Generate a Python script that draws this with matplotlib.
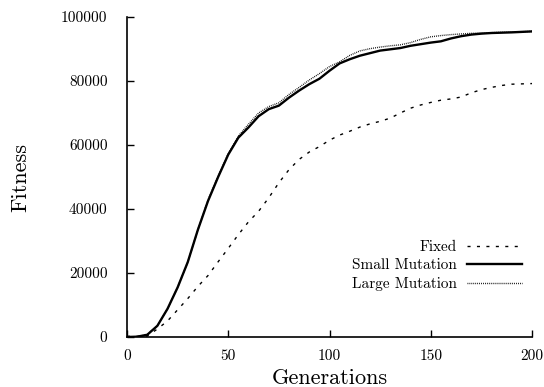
import numpy as np
import matplotlib
matplotlib.use('Agg')
import matplotlib.pyplot as plt

# Данные
generations = np.arange(0, 201, 5)
fixed = [200, 200, 300, 2500, 5000, 8500, 12000, 15800, 19200, 23500,
         27700, 32000, 36000, 39300, 43500, 48200, 52300, 55500, 57800, 59500,
         61500, 63100, 64300, 65600, 66600, 67400, 68400, 70000, 71500, 72500,
         73300, 74000, 74400, 75000, 76300, 77300, 78000, 78600, 79000, 79100,
         79200]
small_mutation = [0, 100, 700, 3500, 8800, 15500, 23400, 33500, 42500, 50000,
                  57000, 62300, 65500, 69000, 71200, 72300, 74800, 77000, 79000, 80700,
                  83200, 85500, 86800, 87900, 88700, 89500, 89900, 90300, 91000, 91500,
                  92000, 92400, 93300, 94000, 94500, 94800, 95000, 95100, 95200, 95350,
                  95500]
large_mutation = [0, 100, 700, 3500, 8800, 15500, 23400, 33500, 42800, 50300,
                  57300, 62800, 66500, 70000, 72000, 73200, 75800, 78000, 80300, 82300,
                  84500, 86000, 88000, 89400, 90100, 90600, 91000, 91300, 92000, 93000,
                  93800, 94200, 94500, 94700, 94900, 95000, 95100, 95200, 95300, 95400,
                  95500]

x_ticks = [0, 50, 100, 150, 200]
y_ticks = [0, 20000, 40000, 60000, 80000, 100000]

plt.rcParams['font.family'] = ['cmr10', 'DejaVu Serif']
plt.rcParams['axes.formatter.use_mathtext'] = True

fig = plt.figure(figsize=(5.44, 3.87), dpi=100)
ax = fig.add_axes([127 / 544, 50 / 387, 405 / 544, 320 / 387])

ax.plot(generations, fixed, color='black', lw=1.0, ls=(0, (2.2, 4.6)), label='Fixed')
ax.plot(generations, small_mutation, color='black', lw=1.7, label='Small Mutation')
ax.plot(generations, large_mutation, color='black', lw=1.0, ls=(0, (0.6, 0.8)),
        label='Large Mutation')

ax.set_xlim(0, 200)
ax.set_ylim(0, 100000)
ax.set_xticks(x_ticks)
ax.set_xticklabels([str(t) for t in x_ticks])
ax.set_yticks(y_ticks)
ax.set_yticklabels([str(t) for t in y_ticks])
ax.tick_params(direction='in', length=5, width=1, labelsize=11, colors='black')
ax.tick_params(axis='y', pad=14)
ax.tick_params(axis='x', pad=9)
for side in ['top', 'right']:
    ax.spines[side].set_visible(False)
for side in ['left', 'bottom']:
    ax.spines[side].set_linewidth(1.2)

ax.set_xlabel('Generations', fontsize=16, labelpad=4)
ax.set_ylabel('Fitness', fontsize=16, labelpad=22)

leg = ax.legend(loc='upper right', bbox_to_anchor=(1.01, 0.345), frameon=False,
                markerfirst=False, fontsize=11, handlelength=3.6, handletextpad=0.7,
                labelspacing=0.3)
for t in leg.get_texts():
    t.set_ha('right')

fig.savefig('out.png', dpi=100)
